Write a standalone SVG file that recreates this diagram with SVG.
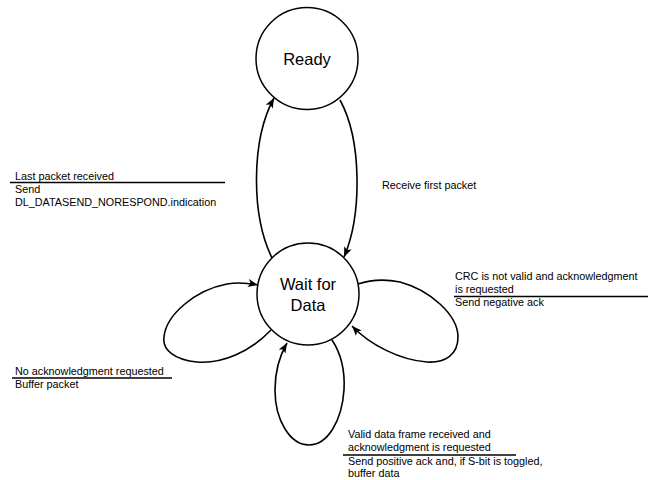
<svg xmlns="http://www.w3.org/2000/svg" width="655" height="480" viewBox="0 0 655 480">
  <defs>
    <marker id="arrow" viewBox="0 0 10 8" refX="10" refY="4" markerWidth="10" markerHeight="8" markerUnits="userSpaceOnUse" orient="auto">
      <path d="M0,0 L10,4 L0,8 L2.5,4 Z" fill="#000"/>
    </marker>
    <style>
      .state { fill: #fff; stroke: #000; stroke-width: 1.5; }
      .state-label { font-family: "Liberation Sans", Arial, sans-serif; font-size: 16.5px; fill: #000; text-anchor: middle; }
      .edge { fill: none; stroke: #000; stroke-width: 1.6; marker-end: url(#arrow); }
      .label { font-family: "Liberation Sans", Arial, sans-serif; font-size: 10.8px; fill: #000; }
      .rule { stroke: #000; stroke-width: 1.5; }
    </style>
  </defs>
  <rect width="655" height="480" fill="#fff"/>

  <!-- transitions -->
  <g id="connectors">
    <!-- Ready -> Wait for Data -->
    <path class="edge" d="M340,100 C362,140 362,215 344,257"/>
    <!-- Wait for Data -> Ready -->
    <path class="edge" d="M272,258 C251,215 251,140 274,98"/>
    <!-- left self-loop -->
    <path class="edge" d="M271,330 C250,352 222,364 197,362 C175,360 162,350 164,337 C166,315 195,290 227,284 C238,282 248,283 258,285"/>
    <!-- right self-loop -->
    <path class="edge" d="M358,284 C370,280 385,279 400,282 C430,290 458,315 458,337 C458,355 445,363 427,362 C400,360 370,345 352,326"/>
    <!-- bottom self-loop -->
    <path class="edge" d="M332,340 C342,355 345,372 344,390 C342,420 328,445 309,445 C290,445 275,420 275,390 C275,370 280,355 287,343"/>
  </g>

  <g id="ready">
    <circle class="state" cx="307" cy="58.5" r="51"/>
    <text class="state-label" x="307" y="65">Ready</text>
  </g>

  <g id="wait-for-data">
    <circle class="state" cx="308" cy="294" r="51"/>
    <text class="state-label" x="308" y="290">Wait for</text>
    <text class="state-label" x="308" y="311">Data</text>
  </g>

  <g id="label-receive-first">
    <text class="label" x="382" y="189">Receive first packet</text>
  </g>

  <g id="label-last-packet">
    <text class="label" x="15" y="180">Last packet received</text>
    <line class="rule" x1="10" y1="182.5" x2="225" y2="182.5"/>
    <text class="label" x="15" y="193">Send</text>
    <text class="label" x="15" y="206">DL_DATASEND_NORESPOND.indication</text>
  </g>

  <g id="label-crc">
    <text class="label" x="455" y="280">CRC is not valid and acknowledgment</text>
    <text class="label" x="455" y="293">is requested</text>
    <line class="rule" x1="454" y1="296.5" x2="648" y2="296.5"/>
    <text class="label" x="455" y="306">Send negative ack</text>
  </g>

  <g id="label-no-ack">
    <text class="label" x="15" y="375">No acknowledgment requested</text>
    <line class="rule" x1="12" y1="378" x2="172" y2="378"/>
    <text class="label" x="15" y="388">Buffer packet</text>
  </g>

  <g id="label-valid-frame">
    <text class="label" x="348" y="438">Valid data frame received and</text>
    <text class="label" x="348" y="451">acknowledgment is requested</text>
    <line class="rule" x1="343" y1="455" x2="516" y2="455"/>
    <text class="label" x="348" y="465">Send positive ack and, if S-bit is toggled,</text>
    <text class="label" x="348" y="477">buffer data</text>
  </g>
</svg>
